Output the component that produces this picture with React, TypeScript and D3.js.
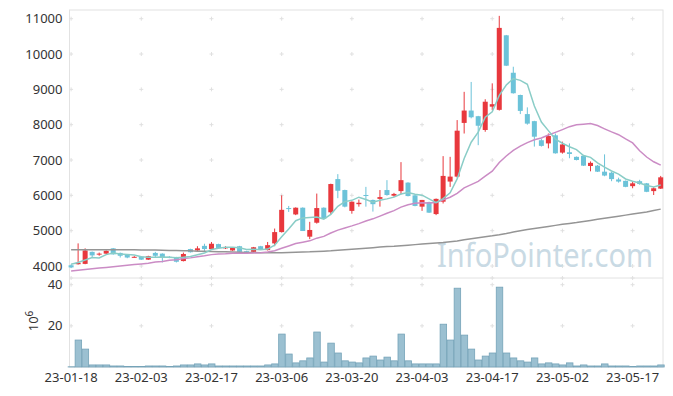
import * as d3 from 'd3';

const W = 673;
const H = 396;

// x ticks: every 10 trading days
const tickIdx = [0, 10, 20, 30, 40, 50, 60, 70, 80];
const tickDates = ['23-01-18', '23-02-03', '23-02-17', '23-03-06', '23-03-20', '23-04-03', '23-04-17', '23-05-02', '23-05-17'];
const priceTicks = [4000, 5000, 6000, 7000, 8000, 9000, 10000, 11000];
const volTicks = [20, 40];

const open = [
	4020, 4050, 4060, 4400, 4330, 4350, 4500, 4370, 4320, 4250,
	4270, 4180, 4370, 4350, 4260, 4250, 4140, 4480, 4440, 4570,
	4480, 4620, 4500, 4440, 4560, 4420, 4400, 4560, 4450, 4640,
	4960, 5640, 5460, 5650, 4830, 5225, 5650, 5520, 6460, 6150,
	5560, 5750, 6010, 5870, 5900, 6150, 5990, 6120, 6360, 6000,
	5680, 5810, 5470, 5820, 6390, 6530, 8050, 8400, 8240, 7850,
	8510, 8420, 10530, 9470, 8840, 8300, 8100, 7560, 7470, 7700,
	7210, 7220, 7090, 7120, 6830, 6840, 6670, 6640, 6450, 6410,
	6260, 6400, 6340, 6120, 6190,
];
const high = [
	4040, 4640, 4500, 4410, 4380, 4440, 4510, 4380, 4330, 4280,
	4280, 4290, 4400, 4360, 4280, 4260, 4380, 4490, 4560, 4630,
	4680, 4630, 4560, 4520, 4570, 4430, 4540, 4570, 4680, 5060,
	6000, 5700, 5660, 5660, 5250, 6050, 5660, 6330, 6600, 6160,
	5830, 5880, 6240, 5880, 6150, 6430, 6070, 6940, 6370, 6010,
	5870, 5820, 5910, 7110, 7090, 8130, 8930, 9210, 8250, 8720,
	9170, 11080, 10540, 9640, 8850, 8490, 8110, 7600, 7750, 7750,
	7520, 7470, 7100, 7130, 6960, 6860, 7160, 6660, 6500, 6420,
	6390, 6440, 6350, 6230, 6550,
];
const low = [
	3940, 4040, 4050, 4250, 4290, 4340, 4320, 4240, 4220, 4240,
	4170, 4170, 4250, 4100, 4220, 4100, 4130, 4380, 4420, 4400,
	4460, 4500, 4480, 4430, 4390, 4380, 4390, 4460, 4440, 4560,
	4950, 5530, 5440, 4990, 4760, 5200, 5330, 5460, 5920, 5660,
	5480, 5680, 5680, 5540, 5680, 5990, 5960, 6030, 5970, 5690,
	5560, 5500, 5440, 5770, 6240, 6500, 7750, 8180, 7420, 7800,
	8410, 8400, 9660, 8880, 8300, 8000, 7380, 7380, 7330, 7180,
	7180, 7050, 6990, 6830, 6680, 6660, 6540, 6400, 6360, 6230,
	6200, 6300, 6090, 6010, 6180,
];
const close = [
	3960, 4090, 4440, 4300, 4350, 4430, 4330, 4290, 4240, 4260,
	4180, 4280, 4290, 4250, 4240, 4120, 4340, 4390, 4500, 4480,
	4630, 4510, 4530, 4510, 4400, 4400, 4530, 4470, 4590, 4960,
	5590, 5620, 5650, 4990, 5020, 5640, 5340, 6320, 6130, 5680,
	5820, 5790, 6000, 5750, 5950, 6010, 6040, 6430, 5980, 5700,
	5870, 5510, 5900, 6550, 6530, 7830, 8400, 8210, 7970, 8650,
	8580, 10740, 9670, 8890, 8390, 8030, 7660, 7400, 7680, 7190,
	7440, 7170, 7000, 6840, 6920, 6670, 6560, 6460, 6390, 6240,
	6340, 6320, 6100, 6200, 6510,
];
// volume, millions of shares
const volume = [
	0.1, 13.1, 8.7, 1.0, 1.0, 1.0, 0.5, 0.5, 0.2, 0.2,
	0.2, 0.5, 0.5, 0.5, 0.2, 0.5, 1.0, 1.0, 1.5, 1.0,
	1.5, 0.5, 0.5, 0.5, 0.5, 0.5, 0.5, 0.5, 1.0, 1.5,
	16.0, 6.3, 2.0, 3.0, 4.4, 17.0, 2.4, 11.6, 6.8, 3.0,
	2.4, 2.0, 4.4, 5.3, 3.4, 4.8, 3.0, 16.0, 3.0, 1.5,
	1.5, 1.5, 1.5, 20.8, 13.1, 38.3, 15.5, 8.7, 3.4, 5.3,
	6.8, 38.8, 6.8, 4.4, 3.0, 2.4, 4.4, 1.5, 2.0, 1.5,
	1.0, 2.0, 0.5, 1.0, 0.5, 0.5, 1.5, 0.5, 0.5, 0.5,
	0.2, 0.5, 0.5, 0.5, 1.0,
];
const ma5 = [
	4050, 4100, 4170, 4240, 4228, 4322, 4370, 4340, 4328, 4310,
	4260, 4250, 4250, 4252, 4248, 4236, 4248, 4268, 4318, 4366,
	4468, 4502, 4530, 4532, 4516, 4470, 4474, 4462, 4478, 4590,
	4828, 5046, 5282, 5362, 5374, 5384, 5328, 5462, 5690, 5822,
	5858, 5948, 5884, 5808, 5862, 5900, 5950, 6036, 6082, 6032,
	6004, 5898, 5792, 5906, 6072, 6464, 7042, 7504, 7788, 8212,
	8362, 8830, 9122, 9306, 9254, 9144, 8528, 8074, 7832, 7592,
	7474, 7376, 7296, 7128, 7074, 6920, 6798, 6690, 6600, 6464,
	6398, 6350, 6278, 6240, 6294,
];
const ma20 = [
	3860, 3880, 3900, 3920, 3940, 3960, 3980, 4000, 4020, 4040,
	4060, 4080, 4110, 4130, 4160, 4180, 4210, 4230, 4260, 4288,
	4322, 4343, 4347, 4358, 4360, 4359, 4369, 4378, 4395, 4430,
	4501, 4568, 4636, 4673, 4712, 4788, 4838, 4934, 5016, 5076,
	5135, 5199, 5273, 5335, 5412, 5493, 5568, 5666, 5736, 5773,
	5787, 5781, 5794, 5872, 5947, 6057, 6210, 6304, 6396, 6545,
	6683, 6930, 7114, 7271, 7393, 7494, 7575, 7623, 7708, 7783,
	7861, 7944, 7999, 8014, 8033, 7975, 7883, 7796, 7717, 7596,
	7484, 7263, 7085, 6950, 6856,
];
const ma60 = [
	4460, 4460, 4460, 4460, 4460, 4460, 4460, 4460, 4460, 4460,
	4455, 4450, 4450, 4445, 4440, 4440, 4435, 4430, 4420, 4415,
	4410, 4405, 4400, 4395, 4390, 4385, 4380, 4378, 4375, 4375,
	4378, 4385, 4390, 4395, 4400, 4410, 4420, 4430, 4445, 4460,
	4475, 4490, 4505, 4520, 4535, 4550, 4560, 4575, 4590, 4605,
	4620, 4635, 4650, 4665, 4685, 4705, 4740, 4770, 4800, 4830,
	4855, 4885, 4920, 4960, 5000, 5030, 5060, 5090, 5120, 5150,
	5180, 5205, 5230, 5260, 5290, 5320, 5350, 5380, 5410, 5440,
	5470, 5500, 5530, 5570, 5610,
];

const colors = {
	up: '#e8383d',
	down: '#6cc3d9',
	ma5: '#8acdc7',
	ma20: '#cb8cc5',
	ma60: '#959595',
	volFill: '#9bc0d1',
	volStroke: '#75a3b8',
	border: '#e2e2e2',
	cross: '#e0e0e0',
	text: '#333',
	mark: '#c9dae4',
};

const font = "'Noto Sans', 'DejaVu Sans', sans-serif";

const plot = { left: 69.5, right: 663, top: 10, mid: 278, bottom: 367 };

export default function App() {
	const x = d3.scaleLinear().domain([0, 84]).range([71.1, 660.7]);
	const y = d3.scaleLinear().domain([4000, 11000]).range([266, 18.7]);
	const yv = d3.scaleLinear().domain([0, 40]).range([367, 284.7]);

	const idx = d3.range(close.length);
	const line = (arr: number[]) =>
		d3.line<number>().x((i) => x(i)).y((i) => y(arr[i]))(idx) ?? '';

	const bodyW = 5;
	const barW = 7;

	const cross = (cx: number, cy: number, key: string) => (
		<g key={key} stroke={colors.cross} strokeWidth={1}>
			<line x1={cx - 2} x2={cx + 2} y1={cy} y2={cy} />
			<line x1={cx} x2={cx} y1={cy - 2} y2={cy + 2} />
		</g>
	);

	return (
		<svg
			width={W}
			height={H}
			style={{ position: 'absolute', left: 0, top: 0, background: '#fff' }}
			fontFamily={font}
		>
			{/* panel frames */}
			<rect
				x={plot.left}
				y={plot.top}
				width={plot.right - plot.left}
				height={plot.bottom - plot.top}
				fill="none"
				stroke={colors.border}
			/>
			<line x1={plot.left} x2={plot.right} y1={plot.mid} y2={plot.mid} stroke={colors.border} />

			{/* grid crosses */}
			{tickIdx.map((t) =>
				priceTicks.map((p) => cross(x(t), y(p), `p${t}-${p}`)),
			)}
			{tickIdx.map((t) => cross(x(t), plot.mid, `m${t}`))}
			{tickIdx.map((t) => volTicks.map((v) => cross(x(t), yv(v), `v${t}-${v}`)))}

			{/* watermark */}
			<text transform="translate(437,266.5) scale(1,1.12)" fontSize={29} fill={colors.mark}>
				InfoPointer.com
			</text>

			{/* candles */}
			{idx.map((i) => {
				const up = close[i] >= open[i];
				const c = up ? colors.up : colors.down;
				const top = y(Math.max(open[i], close[i]));
				const bot = y(Math.min(open[i], close[i]));
				return (
					<g key={`c${i}`}>
						<line x1={x(i)} x2={x(i)} y1={y(high[i])} y2={y(low[i])} stroke={c} strokeWidth={1} />
						<rect
							x={x(i) - bodyW / 2}
							y={top}
							width={bodyW}
							height={Math.max(1, bot - top)}
							fill={c}
						/>
					</g>
				);
			})}

			{/* moving averages */}
			<path d={line(ma60)} fill="none" stroke={colors.ma60} strokeWidth={1.5} />
			<path d={line(ma20)} fill="none" stroke={colors.ma20} strokeWidth={1.5} />
			<path d={line(ma5)} fill="none" stroke={colors.ma5} strokeWidth={1.5} />

			{/* volume */}
			{idx.map((i) => (
				<rect
					key={`v${i}`}
					x={x(i) - barW / 2 + 0.5}
					y={yv(volume[i])}
					width={barW - 0.5}
					height={yv(0) - yv(volume[i])}
					fill={colors.volFill}
					stroke={colors.volStroke}
					strokeWidth={0.8}
				/>
			))}

			{/* y labels */}
			{priceTicks.map((p) => (
				<text key={`pl${p}`} x={62.5} y={y(p) + 4.5} fontSize={13} textAnchor="end" fill={colors.text}>
					{p}
				</text>
			))}
			{volTicks.map((v) => (
				<text key={`vl${v}`} x={62.5} y={yv(v) + 4.5} fontSize={13} textAnchor="end" fill={colors.text}>
					{v}
				</text>
			))}
			<text transform="translate(38,321) rotate(-90)" fontSize={13} textAnchor="middle" fill={colors.text}>
				10<tspan dy={-5} fontSize={10}>6</tspan>
			</text>

			{/* x labels */}
			{tickIdx.map((t, k) => (
				<text key={`xl${t}`} x={x(t)} y={382} fontSize={13} textAnchor="middle" fill={colors.text}>
					{tickDates[k]}
				</text>
			))}
		</svg>
	);
}
